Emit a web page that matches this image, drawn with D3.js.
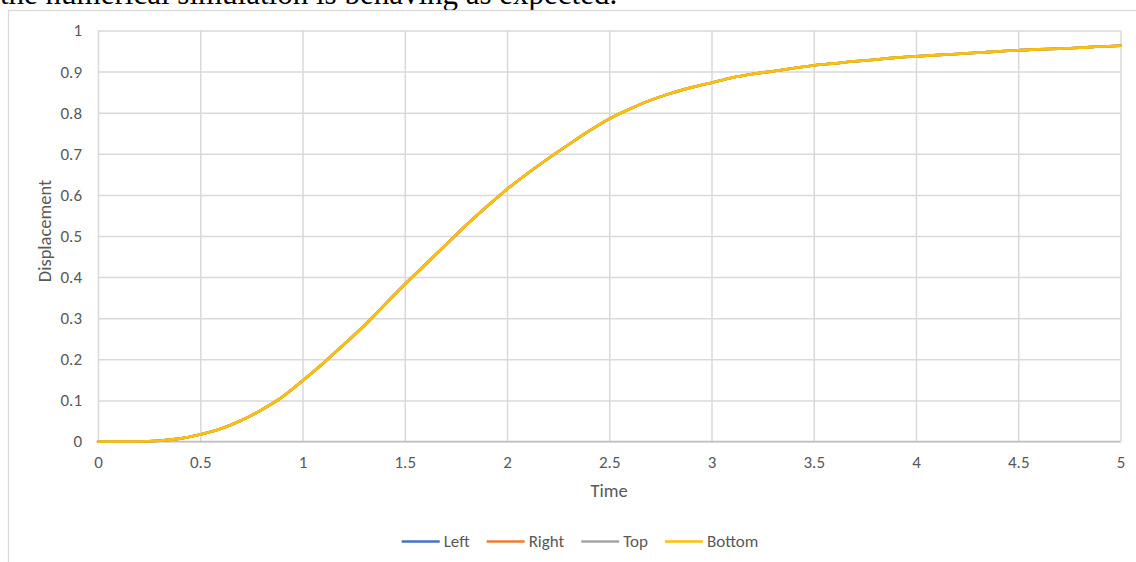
<!DOCTYPE html>
<html>
<head>
<meta charset="utf-8">
<script src="https://cdn.jsdelivr.net/npm/d3@7"></script>
<style>
  html, body { margin: 0; padding: 0; background: #fff; }
  svg { display: block; }
</style>
</head>
<body>
<svg id="chart" width="1136" height="562"></svg>
<script>
// ---- Data ----
const timeValues = [0.0,0.1,0.2,0.3,0.4,0.5,0.6,0.7,0.8,0.9,1.0,1.1,1.2,1.3,1.4,1.5,1.6,1.7,1.8,1.9,2.0,2.1,2.2,2.3,2.4,2.5,2.6,2.7,2.8,2.9,3.0,3.1,3.2,3.3,3.4,3.5,3.6,3.7,3.8,3.9,4.0,4.1,4.2,4.3,4.4,4.5,4.6,4.7,4.8,4.9,5.0];
const bottomValues = [0,0,0,0.002,0.007,0.017,0.031,0.051,0.077,0.108,0.148,0.19,0.235,0.281,0.332,0.382,0.43,0.478,0.526,0.571,0.614,0.652,0.688,0.722,0.755,0.785,0.809,0.83,0.847,0.861,0.873,0.885,0.894,0.901,0.908,0.915,0.92,0.925,0.929,0.934,0.937,0.94,0.943,0.946,0.949,0.952,0.954,0.956,0.958,0.961,0.963];
// The Left, Right and Top series coincide with Bottom (hidden underneath it)
const leftValues = bottomValues.slice();
const rightValues = bottomValues.slice();
const topValues = bottomValues.slice();
const seriesNames = ["Left", "Right", "Top", "Bottom"];
const seriesColors = ["#4472C4", "#ED7D31", "#A5A5A5", "#FFC000"];
const xTickValues = [0,0.5,1,1.5,2,2.5,3,3.5,4,4.5,5];
const yTickValues = [0,0.1,0.2,0.3,0.4,0.5,0.6,0.7,0.8,0.9,1];
const xTitle = "Time";
const yTitle = "Displacement";
const captionText = "the numerical simulation is behaving as expected.";

// ---- Layout ----
const svg = d3.select("#chart");
const FONT = "Carlito, Calibri, Lato, sans-serif";
const textColor = "#595959";
const gridColor = "#D9D9D9";

const x = d3.scaleLinear().domain([0, 5]).range([98, 1120.5]);
const y = d3.scaleLinear().domain([0, 1]).range([441.5, 30.5]);

// caption text above the chart (clipped at top, as in the source page)
svg.append("text")
  .attr("x", 0).attr("y", 3.5)
  .attr("font-family", "'Liberation Serif', 'Times New Roman', serif")
  .attr("font-size", 31)
  .attr("fill", "#000")
  .text(captionText);

// chart frame
svg.append("rect")
  .attr("x", 8.5).attr("y", 10.5)
  .attr("width", 1200).attr("height", 600)
  .attr("fill", "#fff")
  .attr("stroke", gridColor).attr("stroke-width", 1.3);

// gridlines
const gridY = d3.axisLeft(y).tickValues(yTickValues).tickSize(-(x.range()[1] - x.range()[0])).tickFormat("");
svg.append("g").attr("transform", `translate(${x.range()[0]},0)`).call(gridY)
  .call(g => g.select(".domain").remove())
  .call(g => g.selectAll("line").attr("stroke", gridColor).attr("stroke-width", 1.5));

const gridX = d3.axisBottom(x).tickValues(xTickValues).tickSize(-(y.range()[0] - y.range()[1])).tickFormat("");
svg.append("g").attr("transform", `translate(0,${y.range()[0]})`).call(gridX)
  .call(g => g.select(".domain").remove())
  .call(g => g.selectAll("line").attr("stroke", gridColor).attr("stroke-width", 1.5));

// bottom axis line
svg.append("line")
  .attr("x1", x.range()[0]).attr("x2", x.range()[1])
  .attr("y1", y(0)).attr("y2", y(0))
  .attr("stroke", "#BFBFBF").attr("stroke-width", 1.5);

// y tick labels
const yAxis = d3.axisLeft(y).tickValues(yTickValues).tickSize(0).tickPadding(0)
  .tickFormat(d => d3.format("")(+d.toFixed(1)));
svg.append("g").attr("transform", `translate(82,0)`).call(yAxis)
  .call(g => g.select(".domain").remove())
  .call(g => g.selectAll("text").attr("font-family", FONT).attr("font-size", 17).attr("fill", textColor));

// x tick labels
const xAxis = d3.axisBottom(x).tickValues(xTickValues).tickSize(0).tickPadding(0)
  .tickFormat(d => d3.format("")(d));
svg.append("g").attr("transform", `translate(0,456)`).call(xAxis)
  .call(g => g.select(".domain").remove())
  .call(g => g.selectAll("text").attr("font-family", FONT).attr("font-size", 17).attr("fill", textColor));

// axis titles
svg.append("text")
  .attr("x", 609).attr("y", 497)
  .attr("text-anchor", "middle")
  .attr("font-family", FONT).attr("font-size", 18.5).attr("fill", textColor)
  .text(xTitle);

svg.append("text")
  .attr("transform", `translate(51,231) rotate(-90)`)
  .attr("text-anchor", "middle")
  .attr("font-family", FONT).attr("font-size", 18.5).attr("fill", textColor)
  .text(yTitle);

// series lines
const allSeries = [leftValues, rightValues, topValues, bottomValues];
const line = d3.line().x((d, i) => x(timeValues[i])).y(d => y(d)).curve(d3.curveMonotoneX);
allSeries.forEach((vals, k) => {
  svg.append("path")
    .datum(vals)
    .attr("fill", "none")
    .attr("stroke", seriesColors[k])
    .attr("stroke-width", 2.6)
    .attr("stroke-linejoin", "round")
    .attr("stroke-linecap", "round")
    .attr("d", line);
});

// legend
const legend = svg.append("g");
let cx = 0;
seriesNames.forEach((name, k) => {
  const item = legend.append("g").attr("transform", `translate(${cx},0)`);
  item.append("line").attr("x1", 0).attr("x2", 38).attr("y1", 0).attr("y2", 0)
    .attr("stroke", seriesColors[k]).attr("stroke-width", 2.6);
  const t = item.append("text").attr("x", 42).attr("y", 0).attr("dy", "0.35em")
    .attr("font-family", FONT).attr("font-size", 17).attr("fill", textColor)
    .text(name);
  cx += 42 + t.node().getComputedTextLength() + 17;
});
const legendWidth = cx - 17;
legend.attr("transform", `translate(${580 - legendWidth / 2},541.5)`);
</script>
</body>
</html>
